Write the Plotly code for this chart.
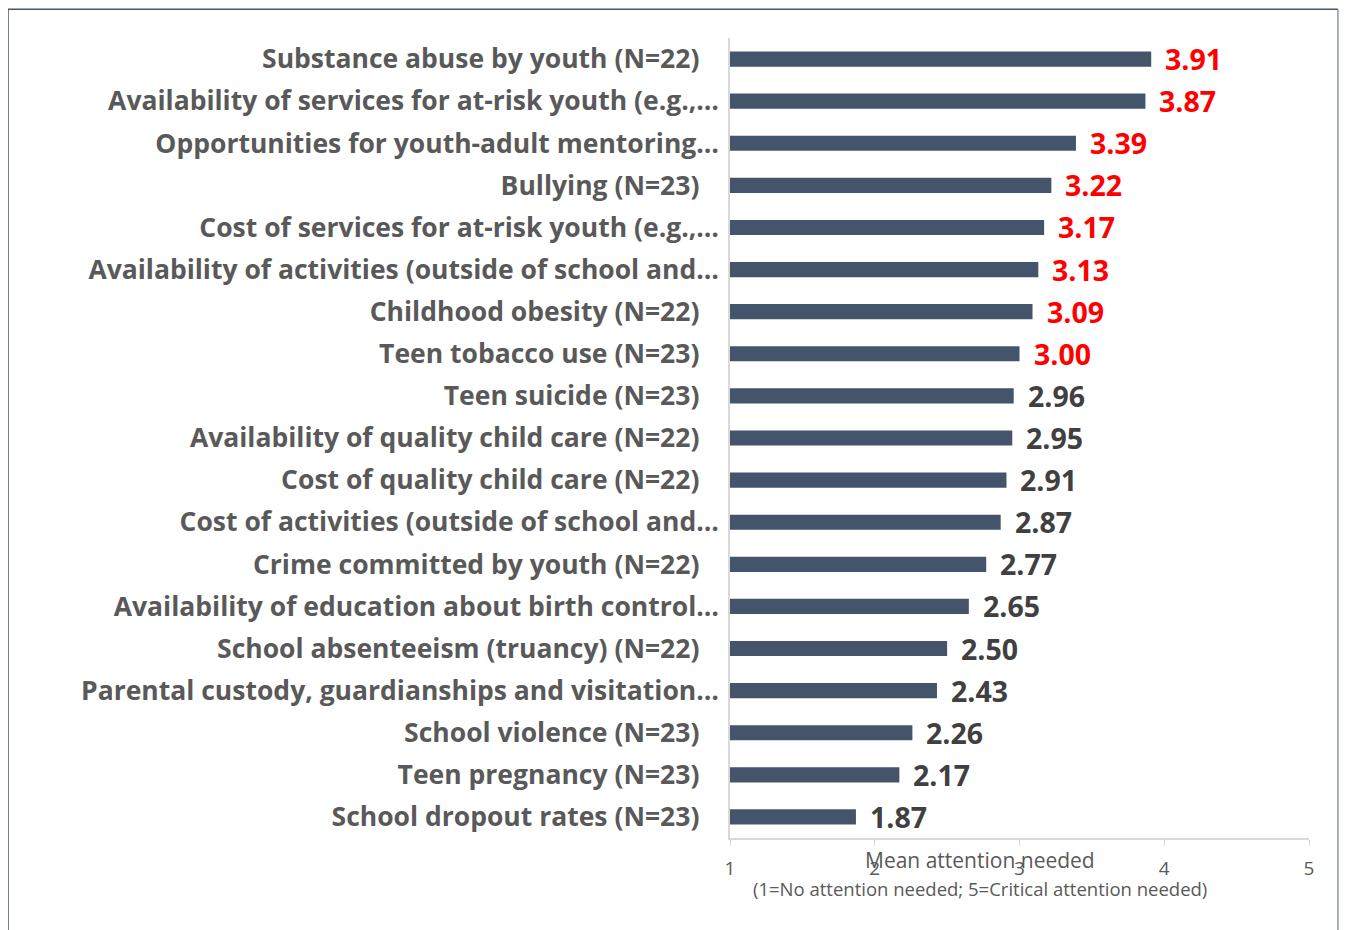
import plotly.graph_objects as go

# Items as they appear from top to bottom of the chart
categories = [
    "Substance abuse by youth (N=22)",
    "Availability of services for at-risk youth (e.g.,…",
    "Opportunities for youth-adult mentoring…",
    "Bullying (N=23)",
    "Cost of services for at-risk youth (e.g.,…",
    "Availability of activities (outside of school and…",
    "Childhood obesity (N=22)",
    "Teen tobacco use (N=23)",
    "Teen suicide (N=23)",
    "Availability of quality child care (N=22)",
    "Cost of quality child care (N=22)",
    "Cost of activities (outside of school and…",
    "Crime committed by youth (N=22)",
    "Availability of education about birth control…",
    "School absenteeism (truancy) (N=22)",
    "Parental custody, guardianships and visitation…",
    "School violence (N=23)",
    "Teen pregnancy (N=23)",
    "School dropout rates (N=23)",
]
mean_scores = [3.91, 3.87, 3.39, 3.22, 3.17, 3.13, 3.09, 3.00, 2.96, 2.95,
               2.91, 2.87, 2.77, 2.65, 2.50, 2.43, 2.26, 2.17, 1.87]
scale_ticks = [1, 2, 3, 4, 5]
highlight_cutoff = 3.0

FONT = "Open Sans"
BAR_COLOR = "#44546a"
LABEL_COLOR = "#595959"

# full labels sit a bit further from the axis than the truncated ones
tick_text = [c if c.endswith("…") else c + "\u2007\u2009" for c in categories]
bases = [scale_ticks[0]] * len(mean_scores)

fig = go.Figure()
fig.add_trace(
    go.Bar(
        y=categories,
        x=[v - b for v, b in zip(mean_scores, bases)],
        base=bases,
        orientation="h",
        marker=dict(color=BAR_COLOR, line=dict(width=0)),
        hoverinfo="skip",
    )
)

# value labels, red for the items that need the most attention
for cat, val in zip(categories, mean_scores):
    fig.add_annotation(
        x=val, y=cat, xref="x", yref="y",
        text=f"<b>{val:.2f}</b>",
        showarrow=False, xanchor="left", xshift=12,
        font=dict(family=FONT, size=28.5,
                  color="#ff0000" if val >= highlight_cutoff else "#404040"),
    )

# axis title and explanation
fig.add_annotation(
    x=0.432, y=-0.028, xref="paper", yref="paper", yanchor="middle",
    text="Mean attention needed", showarrow=False,
    font=dict(family=FONT, size=21, color=LABEL_COLOR),
)
fig.add_annotation(
    x=0.432, y=-0.0625, xref="paper", yref="paper", yanchor="middle",
    text="(1=No attention needed; 5=Critical attention needed)", showarrow=False,
    font=dict(family=FONT, size=18.5, color=LABEL_COLOR),
)

# frame around the chart
fig.add_shape(type="line", xref="paper", yref="paper",
              x0=-1.247, x1=1.05, y0=1.036, y1=1.036,
              line=dict(color="#44546a", width=1.5))
fig.add_shape(type="line", xref="paper", yref="paper",
              x0=-1.247, x1=-1.247, y0=1.036, y1=-0.13,
              line=dict(color="#44546a", width=1.5))
fig.add_shape(type="line", xref="paper", yref="paper",
              x0=1.05, x1=1.05, y0=1.036, y1=-0.13,
              line=dict(color="#8a95a5", width=1.5))

fig.update_layout(
    width=1350,
    height=930,
    margin=dict(l=722, r=49, t=30, b=100),
    paper_bgcolor="white",
    plot_bgcolor="white",
    showlegend=False,
    bargap=0.64,
    font=dict(family=FONT, color=LABEL_COLOR),
    xaxis=dict(
        range=[1, 5],
        tickvals=scale_ticks,
        ticks="outside",
        ticklen=6,
        tickcolor="#d9d9d9",
        showline=True,
        linecolor="#d9d9d9",
        linewidth=1.5,
        showgrid=False,
        zeroline=False,
        ticklabelstandoff=6,
        tickfont=dict(family=FONT, size=19, color=LABEL_COLOR),
    ),
    yaxis=dict(
        autorange="reversed",
        tickvals=categories,
        ticktext=tick_text,
        showline=True,
        linecolor="#d9d9d9",
        linewidth=1.5,
        showgrid=False,
        ticks="",
        ticklabelstandoff=4,
        tickfont=dict(family=FONT, size=26.5, color=LABEL_COLOR, weight="bold"),
    ),
)

fig.write_html("out.html")
